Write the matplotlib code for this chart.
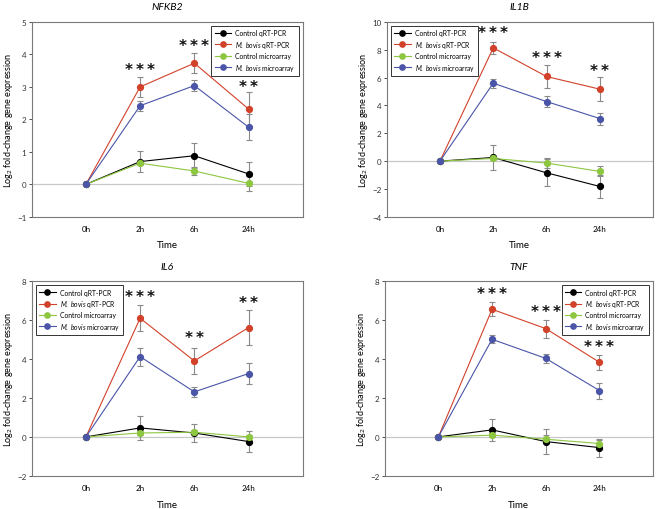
import matplotlib
matplotlib.use("Agg")
import matplotlib.pyplot as plt
from matplotlib.lines import Line2D
import numpy as np

plt.rcParams['font.family'] = ['Lato', 'DejaVu Sans']
plt.rcParams['mathtext.fontset'] = 'custom'
plt.rcParams['mathtext.rm'] = 'Lato'
plt.rcParams['mathtext.it'] = 'Lato:italic'

times = ["0h", "2h", "6h", "24h"]
series_names = ["Control qRT-PCR", "$\\it{M.\\ bovis}$ qRT-PCR", "Control microarray", "$\\it{M.\\ bovis}$ microarray"]
series_colors = ["#000000", "#d2412a", "#8dc63f", "#4a55a8"]

# values per gene: [control qPCR, M.bovis qPCR, control array, M.bovis array]
nfkb2_vals = [[0, 0.70, 0.88, 0.32], [0, 3.00, 3.73, 2.32], [0, 0.65, 0.41, 0.03], [0, 2.42, 3.04, 1.76]]
nfkb2_errs = [[0, 0.32, 0.38, 0.36], [0, 0.30, 0.31, 0.51], [0, 0.05, 0.13, 0.24], [0, 0.15, 0.17, 0.40]]
il1b_vals = [[0, 0.26, -0.84, -1.82], [0, 8.14, 6.08, 5.17], [0, 0.19, -0.14, -0.74], [0, 5.60, 4.28, 3.06]]
il1b_errs = [[0, 0.87, 0.98, 0.80], [0, 0.45, 0.86, 0.85], [0, 0.10, 0.38, 0.36], [0, 0.33, 0.40, 0.43]]
il6_vals = [[0, 0.46, 0.20, -0.24], [0, 6.09, 3.90, 5.61], [0, 0.20, 0.24, 0.00], [0, 4.12, 2.31, 3.25]]
il6_errs = [[0, 0.62, 0.47, 0.55], [0, 0.66, 0.67, 0.89], [0, 0.10, 0.10, 0.08], [0, 0.46, 0.25, 0.55]]
tnf_vals = [[0, 0.36, -0.24, -0.55], [0, 6.55, 5.56, 3.83], [0, 0.09, -0.12, -0.34], [0, 5.01, 4.03, 2.38]]
tnf_errs = [[0, 0.58, 0.65, 0.46], [0, 0.35, 0.46, 0.39], [0, 0.10, 0.20, 0.20], [0, 0.20, 0.22, 0.41]]

genes = ["NFKB2", "IL1B", "IL6", "TNF"]
ylims = [(-1, 5), (-4, 10), (-2, 8), (-2, 8)]
yticks = [np.arange(-1, 6, 1), np.arange(-4, 11, 2), np.arange(-2, 9, 2), np.arange(-2, 9, 2)]
star_text = [["***", "***", "**"], ["***", "***", "**"], ["***", "**", "**"], ["***", "***", "***"]]
star_y = [[3.53, 4.27, 3.0], [9.24, 7.44, 6.53], [7.23, 5.09, 6.92], [7.34, 6.45, 4.65]]
legend_loc = ["upper right", "upper left", "upper left", "upper right"]
all_vals = [nfkb2_vals, il1b_vals, il6_vals, tnf_vals]
all_errs = [nfkb2_errs, il1b_errs, il6_errs, tnf_errs]

positions = [[0.048, 0.573, 0.410, 0.382], [0.585, 0.573, 0.403, 0.382],
             [0.048, 0.065, 0.410, 0.382], [0.582, 0.065, 0.406, 0.382]]

fig = plt.figure(figsize=(6.61, 5.10), dpi=100)
x = np.arange(1, len(times) + 1)
handles = [Line2D([0], [0], color=c, lw=0.8, marker="o", ms=3.8, mfc=c, mec=c) for c in series_colors]
for g in range(4):
    ax = fig.add_axes(positions[g])
    ax.axhline(0, color="#c8c8c8", lw=0.9, zorder=1)
    for s in range(4):
        ax.errorbar(x, all_vals[g][s], yerr=all_errs[g][s], color=series_colors[s], lw=0.8,
                    marker="o", ms=4.2, mec=series_colors[s], mfc=series_colors[s],
                    ecolor="#8a8a8a", elinewidth=0.8, capsize=2.5, capthick=0.8, zorder=3)
    for i, (t, yv) in enumerate(zip(star_text[g], star_y[g])):
        ax.text(x[i + 1], yv, "\u2009".join(t), ha="center", va="center", fontsize=11, fontweight="bold",
                family="DejaVu Sans", color="#111111")
    ax.set_xlim(0, 5)
    ax.set_ylim(*ylims[g])
    ax.set_yticks(yticks[g])
    ax.set_xticks(x)
    ax.set_xticklabels(times)
    ax.tick_params(axis="x", length=0, labelsize=5.8, pad=6)
    ax.tick_params(axis="y", length=2, width=0.6, labelsize=5.8, colors="#333333", pad=2)
    for sp in ax.spines.values():
        sp.set_color("#7a7a7a")
        sp.set_linewidth(0.8)
    ax.set_xlabel("Time", fontsize=7, labelpad=6)
    ax.set_ylabel("Log$_2$ fold-change gene expression", fontsize=6.5, labelpad=1.5)
    ax.set_title(genes[g], fontsize=7.5, style="italic", pad=9)
    leg = ax.legend(handles, series_names, loc=legend_loc[g], fontsize=4.9, frameon=True, fancybox=False,
                    edgecolor="#333333", framealpha=1, handlelength=2.4, borderpad=0.5,
                    labelspacing=0.35, handletextpad=0.6, borderaxespad=0.6)
    leg.get_frame().set_linewidth(0.7)

fig.savefig("out.png", dpi=100)
